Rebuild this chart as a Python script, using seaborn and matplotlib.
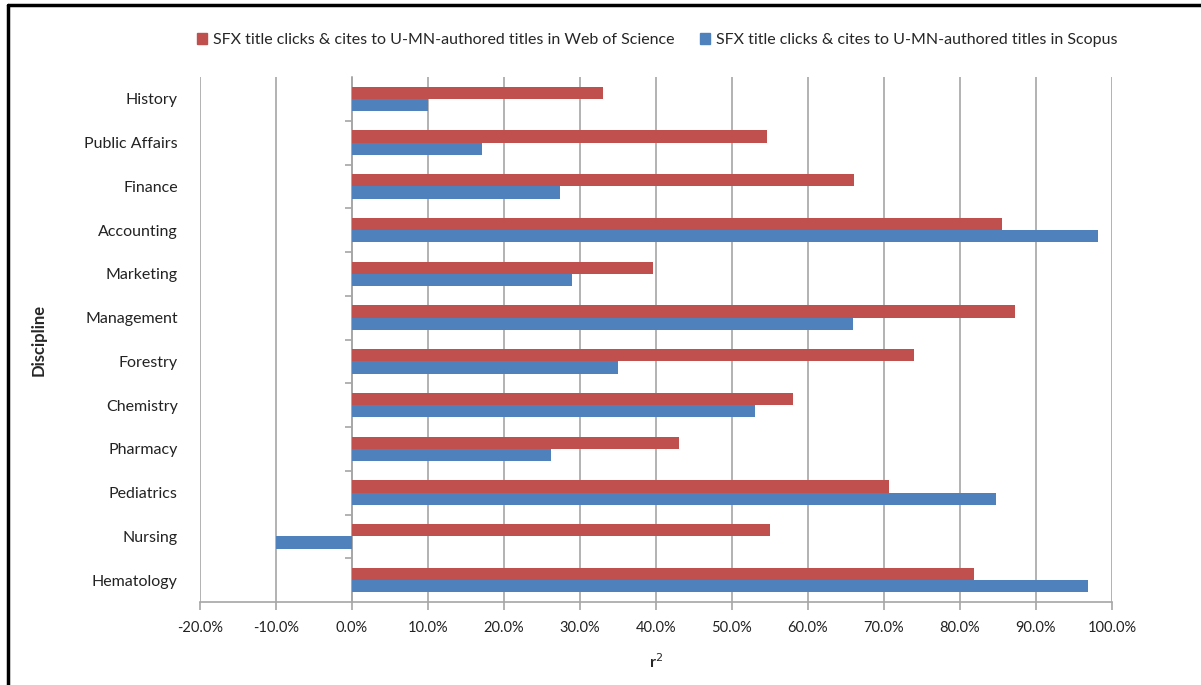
import matplotlib
matplotlib.use("Agg")
import matplotlib.pyplot as plt
from matplotlib.lines import Line2D
from matplotlib.ticker import FuncFormatter
import pandas as pd
import seaborn as sns

# r² by discipline for two citation sources
disciplines = ["History", "Public Affairs", "Finance", "Accounting", "Marketing",
               "Management", "Forestry", "Chemistry", "Pharmacy", "Pediatrics",
               "Nursing", "Hematology"]
wos_r2 = [0.330, 0.546, 0.661, 0.855, 0.396, 0.872, 0.739, 0.580, 0.430, 0.707,
          0.550, 0.819]
scopus_r2 = [0.100, 0.171, 0.274, 0.981, 0.290, 0.659, 0.350, 0.530, 0.262, 0.848,
             -0.100, 0.969]
series_names = ["SFX title clicks & cites to U-MN-authored titles in Web of Science",
                "SFX title clicks & cites to U-MN-authored titles in Scopus"]
x_ticks = [-0.2, -0.1, 0.0, 0.1, 0.2, 0.3, 0.4, 0.5, 0.6, 0.7, 0.8, 0.9, 1.0]

df = pd.concat([
    pd.DataFrame({"Discipline": disciplines, "r2": wos_r2, "Series": series_names[0]}),
    pd.DataFrame({"Discipline": disciplines, "r2": scopus_r2, "Series": series_names[1]}),
])

sns.set_theme(style="white")
plt.rcParams["font.family"] = ["Lato", "DejaVu Sans"]

W, H = 1201, 685
fig = plt.figure(figsize=(W / 100, H / 100), dpi=100)
ax = fig.add_axes([200 / W, 1 - 602 / H, (1112 - 200) / W, (602 - 77) / H])

palette = {series_names[0]: "#C0504D", series_names[1]: "#4F81BD"}
sns.barplot(data=df, x="r2", y="Discipline", hue="Series", order=disciplines,
            hue_order=series_names, palette=palette, orient="h", width=0.56,
            saturation=1, linewidth=0, ax=ax, legend=False)

grid_c = "#A6A6A6"
ax.set_xlim(-0.2, 1.0)
ax.set_ylim(len(disciplines) - 0.5, -0.5)
ax.set_xticks(x_ticks)
ax.xaxis.set_major_formatter(FuncFormatter(lambda v, p: f"{v * 100:.1f}%"))
ax.grid(axis="x", color=grid_c, linewidth=1.2)
ax.set_axisbelow(True)
for s in ["top", "right", "left"]:
    ax.spines[s].set_visible(False)
ax.spines["bottom"].set_color(grid_c)
ax.spines["bottom"].set_linewidth(1.2)
ax.tick_params(axis="x", bottom=True, direction="out", length=6, width=1.2,
               color=grid_c, labelsize=10.5, labelcolor="#222222", pad=8)
ax.tick_params(axis="y", left=False, length=0, labelsize=11.5, labelcolor="#222222",
               pad=16)

# Vertical category axis crossing at zero, with ticks between categories
zero_frac = (0 - (-0.2)) / 1.2
yax = ax.secondary_yaxis(zero_frac)
yax.set_yticks([i - 0.5 for i in range(1, len(disciplines))])
yax.set_yticklabels([])
yax.spines["left"].set_color(grid_c)
yax.spines["left"].set_linewidth(1.2)
yax.tick_params(axis="y", direction="out", length=5, width=1.2, color=grid_c)

ax.set_xlabel("r$^2$", fontsize=11.5, fontweight="bold", labelpad=12)
ax.set_ylabel("Discipline", fontsize=12, fontweight="bold", labelpad=27)

handles = [plt.Rectangle((0, 0), 1, 1, color=palette[n]) for n in series_names]
fig.legend(handles, series_names, loc="center", bbox_to_anchor=(657 / W, 1 - 40 / H),
           ncol=2, frameon=False, fontsize=11.5, handlelength=0.65, handleheight=0.65,
           handletextpad=0.35, columnspacing=1.6)

# Figure frame along top and left edges
fig.add_artist(Line2D([8 / W, 1.0], [1 - 5 / H, 1 - 5 / H], color="black", linewidth=2.5,
                      transform=fig.transFigure))
fig.add_artist(Line2D([8 / W, 8 / W], [0.0, 1 - 5 / H], color="black", linewidth=2.5,
                      transform=fig.transFigure))

fig.savefig("out.png", dpi=100)
